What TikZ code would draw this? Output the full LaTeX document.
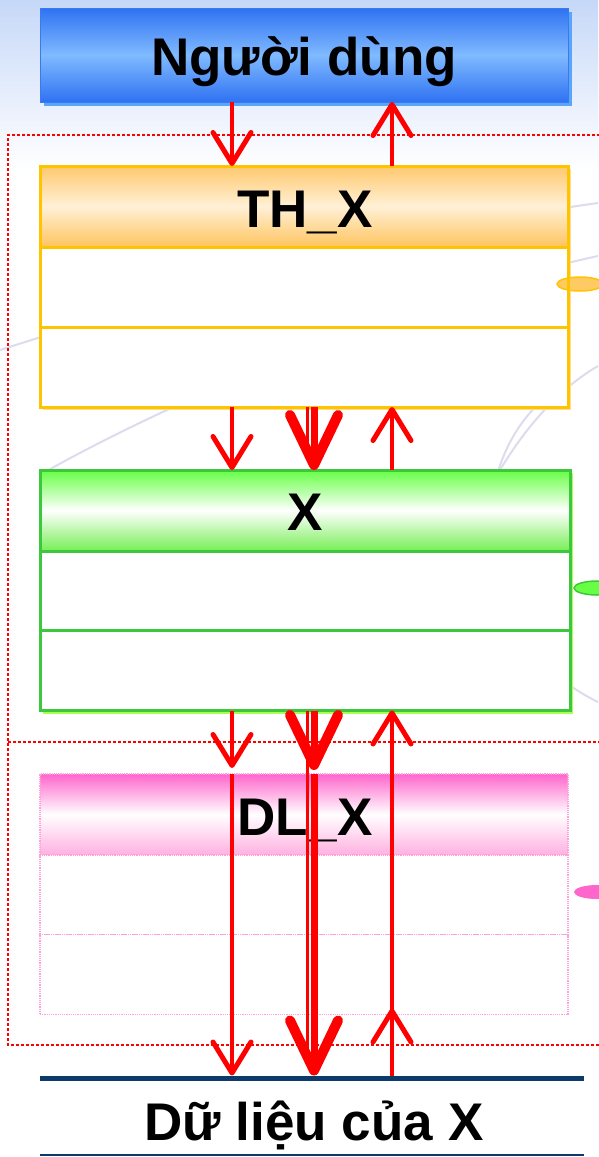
\documentclass[tikz,border=0pt]{standalone}
\usepackage{fontspec}
\setmainfont{Liberation Sans}
\usetikzlibrary{arrows.meta,shapes.geometric}
\definecolor{bgblue}{HTML}{C6D8F8}
\definecolor{bgline}{HTML}{DCDCEE}
\definecolor{ubdark}{HTML}{2F72F2}
\definecolor{ublight}{HTML}{80BAFF}
\definecolor{ubborder}{HTML}{3A7AF0}
\definecolor{ubshadow}{HTML}{5AA5FA}
\definecolor{ortop}{HTML}{FFC86E}
\definecolor{ormid}{HTML}{FFF0D6}
\definecolor{orbot}{HTML}{FFC45E}
\definecolor{orborder}{HTML}{FFC400}
\definecolor{orshadow}{HTML}{FFDC90}
\definecolor{orfill}{HTML}{FFC964}
\definecolor{grtop}{HTML}{66FF44}
\definecolor{grbot}{HTML}{77EE55}
\definecolor{grborder}{HTML}{3CC83C}
\definecolor{grshadow}{HTML}{AAFF55}
\definecolor{grfill}{HTML}{66FF44}
\definecolor{pktop}{HTML}{FF66CC}
\definecolor{pkbot}{HTML}{FFB0E0}
\definecolor{pkborder}{HTML}{FFA0DD}
\definecolor{pkfill}{HTML}{FF66CC}
\definecolor{arrred}{HTML}{FF0000}
\definecolor{navy}{HTML}{0B3A6B}
\tikzset{
  box/.style={rectangle, inner sep=0pt, outer sep=0pt},
  title/.style={inner sep=0pt, outer sep=0pt, anchor=base, text=black,
    font=\bfseries\fontsize{53}{60}\selectfont},
  userbox/.style={box, minimum width=528pt, minimum height=94pt, draw=ubborder, line width=1pt,
    top color=ubdark, bottom color=ubdark, middle color=ublight,
    preaction={fill=ubshadow, transform canvas={shift={(4pt,-4pt)}}}},
  orhead/.style={box, minimum width=528pt, minimum height=81pt, draw=orborder, line width=3pt,
    top color=ortop, bottom color=orbot, middle color=ormid,
    preaction={fill=orshadow, transform canvas={shift={(3pt,-3pt)}}}},
  orcell/.style={box, minimum width=528pt, minimum height=80pt, draw=orborder, line width=3pt,
    fill=white, preaction={fill=orshadow, transform canvas={shift={(3pt,-3pt)}}}},
  grhead/.style={box, minimum width=530pt, minimum height=81pt, draw=grborder, line width=3pt,
    top color=grtop, bottom color=grbot, middle color=white,
    preaction={fill=grshadow, transform canvas={shift={(3pt,-3pt)}}}},
  grcell/.style={box, minimum width=530pt, minimum height=80pt, draw=grborder, line width=3pt,
    fill=white, preaction={fill=grshadow, transform canvas={shift={(3pt,-3pt)}}}},
  pkhead/.style={box, minimum width=528pt, minimum height=81pt, draw=pkborder, densely dotted, line width=1.2pt,
    top color=pktop, bottom color=pkbot, middle color=white},
  pkcell/.style={box, minimum width=528pt, minimum height=80pt, draw=pkborder, densely dotted, line width=1.2pt,
    fill=white},
  tab/.style={ellipse, inner sep=0pt, minimum width=46pt, minimum height=14pt, line width=1.5pt},
  arr/.style={draw=arrred, line width=4.5pt, -{Straight Barb[length=31pt,width=38pt,round,line width=5pt 0]}},
  thickarr/.style={draw=arrred, line width=7pt, -{Straight Barb[length=50pt,width=48pt,round,line width=10pt 0]}},
  twinline/.style={draw=arrred, line width=2.5pt},
  frame/.style={draw=arrred, line width=1.2pt, dash pattern=on 3pt off 2pt},
  bgcurve/.style={draw=bgline, line width=2pt},
}
\begin{document}
\begin{tikzpicture}[x=1pt,y=-1pt]
\useasboundingbox (0,0) rectangle (598,1157);
\fill[white] (0,0) rectangle (598,1157);
% background
\shade[top color=bgblue, bottom color=white] (0,0) rectangle (598,170);
\draw[bgcurve] (0,350) .. controls (140,305) and (400,230) .. (598,203);
\draw[bgcurve] (45,472) .. controls (190,390) and (440,290) .. (598,256);
\draw[bgcurve] (500,470) .. controls (530,420) and (565,385) .. (598,366);
\draw[bgcurve] (545,398) .. controls (460,470) and (470,640) .. (598,702);

% dashed frame
\draw[frame] (600,135) -- (8,135) -- (8,1045) -- (600,1045);
\draw[frame] (8,742) -- (600,742);

% user
\node[userbox] (user) at (304,55) {};
\node[title] (usert) at (304,75) {Người dùng};

% TH_X
\node[orhead] (thx) at (304,206.5) {};
\node[orcell] (thx1) at (304,287) {};
\node[orcell] (thx2) at (304,367) {};
\node[title] (thxt) at (305,227) {TH\_X};
\node[tab, draw=orborder, fill=orfill] (thxtab) at (580,284) {};
\draw[orborder, line width=3pt] (thx1.north east) -- (thx1.south east);

% X
\node[grhead] (xh) at (305,510.5) {};
\node[grcell] (x1) at (305,591) {};
\node[grcell] (x2) at (305,670.5) {};
\node[title] (xt) at (305,530) {X};
\node[tab, draw=grborder, fill=grfill] (xtab) at (597,588) {};
\draw[grborder, line width=3pt] (x1.north east) -- (x1.south east);

% DL_X
\node[pkhead] (dlx) at (304,814.5) {};
\node[pkcell] (dlx1) at (304,895) {};
\node[pkcell] (dlx2) at (304,974.5) {};
\node[title] (dlxt) at (305,835) {DL\_X};
\node[tab, fill=pkfill] (dlxtab) at (597,892) {};

% data store
\node[box, fill=navy, minimum width=544pt, minimum height=5pt] (dline) at (312,1078) {};
\node[box, fill=navy, minimum width=544pt, minimum height=2pt] (dbot) at (312,1155) {};
\node[title] (dt) at (314,1140) {Dữ liệu của X};

% connectors
\coordinate (cL) at (232,0);
\coordinate (cM) at (314,0);
\coordinate (cT) at (307.5,0);
\coordinate (cR) at (392,0);

\draw[arr] (user.south -| cL) -- (thx.north -| cL);
\draw[arr] (thx.north -| cR) -- (user.south -| cR);

\draw[arr] (thx2.south -| cL) -- (xh.north -| cL);
\draw[twinline, shorten >=20pt] (thx2.south -| cT) -- (xh.north -| cT);
\draw[thickarr] (thx2.south -| cM) -- (xh.north -| cM);
\draw[arr] (xh.north -| cR) -- (thx2.south -| cR);

\draw[arr, shorten >=6pt] (x2.south -| cL) -- (dlx.north -| cL);
\draw[arr] (dlx.north -| cL) -- (dline.north -| cL);
\draw[twinline, shorten >=22pt] (x2.south -| cT) -- (dline.north -| cT);
\draw[thickarr, shorten >=4pt] (x2.south -| cM) -- (dlx.north -| cM);
\draw[thickarr] (dlx.north -| cM) -- (dline.north -| cM);
\draw[arr, shorten >=-6pt] (dline.north -| cR) -- (dlx2.south -| cR);
\draw[arr, shorten <=-6pt] (dlx2.south -| cR) -- (x2.south -| cR);
\end{tikzpicture}
\end{document}
